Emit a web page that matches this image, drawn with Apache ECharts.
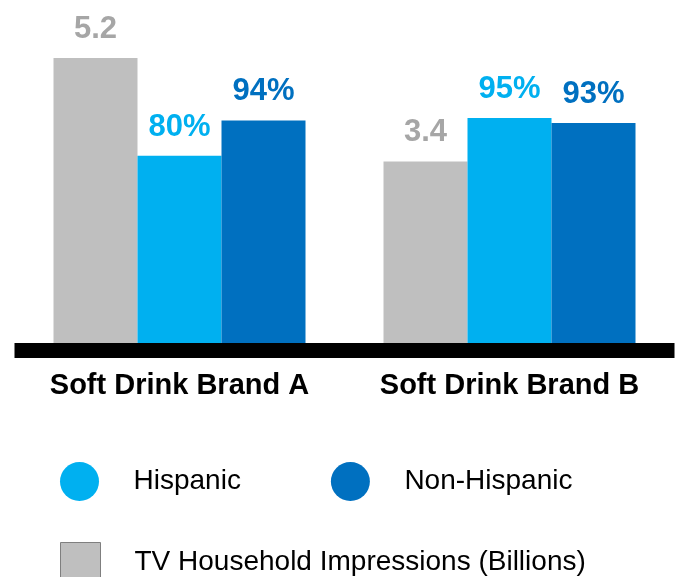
<!DOCTYPE html>
<html>
<head>
<meta charset="utf-8">
<script src="https://cdn.jsdelivr.net/npm/echarts@6/dist/echarts.min.js"></script>
<style>
  html, body { margin: 0; padding: 0; background: #fff; }
  #chart { width: 680px; height: 577px; }
</style>
</head>
<body>
<div id="chart"></div>
<script>
// Brands compared
const categories = ['Soft Drink Brand A', 'Soft Drink Brand B'];
// TV household impressions, billions
const impressions = [5.2, 3.4];
// Share of audience reached, percent
const hispanic = [80, 95];
const nonHispanic = [94, 93];

const FONT = '"Liberation Sans", Arial, sans-serif';
const GRAY = '#bfbfbf';
const LIGHT = '#00b0f0';
const DARK = '#0070c0';

const valueLabel = (color, fmt) => ({
  show: true,
  position: 'top',
  distance: 13,
  formatter: fmt,
  color: color,
  fontFamily: FONT,
  fontWeight: 'bold',
  fontSize: 31
});

const legendText = { color: '#000', fontFamily: FONT, fontSize: 28, padding: [6, 0, 0, 29] };

const chart = echarts.init(document.getElementById('chart'), null, { renderer: 'canvas' });
chart.setOption({
  animation: false,
  backgroundColor: '#fff',
  grid: { left: 14.5, right: 5.5, top: 55, bottom: 220, containLabel: false },
  xAxis: {
    type: 'category',
    data: categories,
    z: 5,
    offset: -7,
    axisLine: { show: true, lineStyle: { color: '#000', width: 15, cap: 'butt' } },
    axisTick: { show: false },
    axisLabel: {
      interval: 0,
      hideOverlap: false,
      margin: 21,
      color: '#000',
      fontFamily: FONT,
      fontWeight: 'bold',
      fontSize: 29
    }
  },
  yAxis: [
    { type: 'value', min: 0, max: 5.25, show: false, splitLine: { show: false } },
    { type: 'value', min: 0, max: 120, show: false, splitLine: { show: false } }
  ],
  legend: [
    {
      data: [
        { name: 'Hispanic', icon: 'circle' },
        { name: 'Non-Hispanic', icon: 'circle' }
      ],
      left: 60,
      top: 462,
      padding: 0,
      orient: 'horizontal',
      itemWidth: 40,
      itemHeight: 39,
      itemGap: 90,
      selectedMode: false,
      textStyle: legendText
    },
    {
      data: [{ name: 'TV Household Impressions (Billions)', icon: 'rect' }],
      left: 60,
      top: 542,
      padding: 0,
      itemWidth: 40,
      itemHeight: 40,
      selectedMode: false,
      itemStyle: { borderColor: '#7f7f7f', borderWidth: 1 },
      textStyle: legendText
    }
  ],
  series: [
    {
      name: 'TV Household Impressions (Billions)',
      type: 'bar',
      yAxisIndex: 0,
      data: impressions,
      barWidth: 84,
      barGap: '0%',
      itemStyle: { color: GRAY },
      label: valueLabel('#a6a6a6', '{c}')
    },
    {
      name: 'Hispanic',
      type: 'bar',
      yAxisIndex: 1,
      data: hispanic,
      barWidth: 84,
      barGap: '0%',
      itemStyle: { color: LIGHT },
      label: valueLabel(LIGHT, '{c}%')
    },
    {
      name: 'Non-Hispanic',
      type: 'bar',
      yAxisIndex: 1,
      data: nonHispanic,
      barWidth: 84,
      barGap: '0%',
      itemStyle: { color: DARK },
      label: valueLabel(DARK, '{c}%')
    }
  ]
});
</script>
</body>
</html>
